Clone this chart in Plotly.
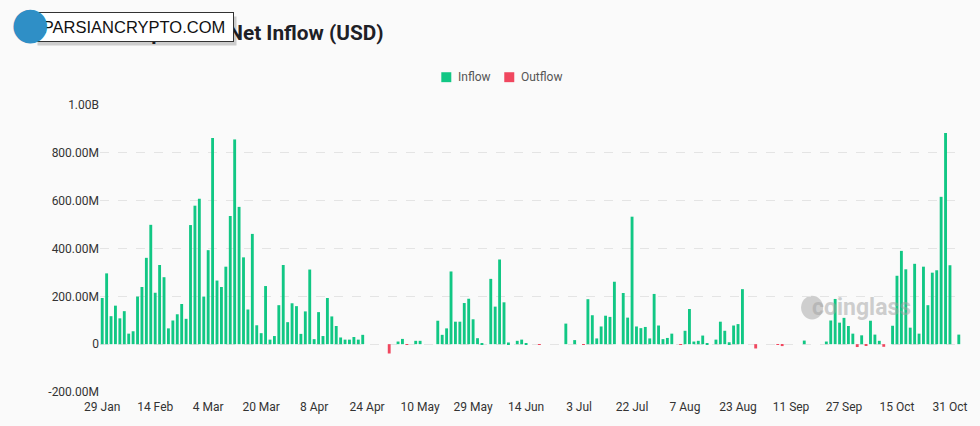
import pandas as pd
import plotly.graph_objects as go

# trading days shown on the chart (US market days)
holidays = ["2024-02-19", "2024-03-29", "2024-05-27", "2024-06-19", "2024-07-04", "2024-09-02"]
days = pd.bdate_range("2024-01-29", "2024-11-04")
days = [d.strftime("%Y-%m-%d") for d in days if d.strftime("%Y-%m-%d") not in holidays]

# daily net flow, millions USD
flow_jan_feb = [193, 296, 117, 161, 108, 138, 44, 54, 199, 239, 361, 499, 215, 331, 280,
                66, 99, 125, 168, 106, 498, 579, 608]
flow_mar = [199, 393, 862, 266, 239, 324, 536, 856, 574, 363, 145, 461, 79, 46, 243,
            19, 34, 163, 331, 92]
flow_apr = [171, 159, 43, 137, 312, 21, 134, 34, 193, 116, 76, 28, 19, 19, 30, 19, 39,
            0, 0, 0, 0, 0]
flow_may = [-39, 0, 11, 22, -3, 0, 14, 14, 0, 0, 0, 98, 39, 66, 304, 94, 94, 172, 190,
            104, 25, 4]
flow_jun = [0, 273, 157, 354, 175, 7, 0, 14, 19, 2, 0, 0, -1, 0, 0, 0, 0, 0, 86]
flow_jul = [0, 17, 0, -3, 188, 121, 24, 74, 119, 114, 261, 0, 214, 111, 533, 74, 67, 72,
            24, 210, 78, 21]
flow_aug = [26, 44, 0, -3, 56, 147, 11, 14, 36, 1, 0, 19, 94, 56, 8, 78, 84, 230, 0, 0,
            -18, 0]
flow_sep = [0, 0, 0, -3, -8, 0, 0, 0, 0, 15, 0, 0, 0, 0, 11, 99, 189, 90, 110, 76]
flow_oct = [44, -12, 37, -4, 98, 40, 14, -11, 0, 77, 286, 390, 313, 69, 336, 44, 324,
            163, 299, 309, 616, 883, 330]
flow_nov = [0, 40]

tick_labels = ["29 Jan", "14 Feb", "4 Mar", "20 Mar", "8 Apr", "24 Apr", "10 May", "29 May",
               "14 Jun", "3 Jul", "22 Jul", "7 Aug", "23 Aug", "11 Sep", "27 Sep", "15 Oct", "31 Oct"]
y_ticks = [-200e6, 0, 200e6, 400e6, 600e6, 800e6, 1e9]
y_labels = ["-200.00M", "0", "200.00M", "400.00M", "600.00M", "800.00M", "1.00B"]

GREEN = "#11c784"
RED = "#f0475f"

flow = (flow_jan_feb + flow_mar + flow_apr + flow_may + flow_jun + flow_jul
        + flow_aug + flow_sep + flow_oct + flow_nov)
flow = [v * 1e6 for v in flow]
inflow = [v if v > 0 else None for v in flow]
outflow = [v if v < 0 else None for v in flow]

fig = go.Figure()
fig.add_trace(go.Bar(x=days, y=inflow, name="Inflow", marker_color=GREEN, marker_line_width=0))
fig.add_trace(go.Bar(x=days, y=outflow, name="Outflow", marker_color=RED, marker_line_width=0))

W, H = 980, 426
L, R, T, B = 99.5, 19, 105, 32
pw, ph = W - L - R, H - T - B

def px2paper(x, y):
    return (x - L) / pw, (H - B - y) / ph

fig.update_layout(
    width=W, height=H,
    margin=dict(l=L, r=R, t=T, b=B),
    paper_bgcolor="#fafafa", plot_bgcolor="#fafafa",
    barmode="relative", bargap=0.35,
    font=dict(family="Roboto, sans-serif", size=12, color="#333"),
    title=dict(text="Total Bitcoin Spot ETF Net Inflow (USD)", x=16 / W, xanchor="left",
               y=1 - 33 / H, yanchor="middle",
               font=dict(size=20.8, color="#1e2026", family="Roboto, sans-serif", weight="bold")),
    showlegend=False,
)
fig.update_xaxes(type="category", tickvals=days[::12], ticktext=tick_labels, showgrid=False,
                 showline=False, ticks="", ticklabelstandoff=6, tickfont=dict(size=12, color="#333"))
fig.update_yaxes(range=[-200e6, 1e9], tickvals=y_ticks, ticktext=y_labels, showgrid=True,
                 gridcolor="#e4e4e4", griddash="dash", zeroline=False, ticks="",
                 tickfont=dict(size=12, color="#333"))

# legend drawn by hand (small swatches like the source)
for name, color, sx in [("Inflow", GREEN, 441), ("Outflow", RED, 504)]:
    x0, y0 = px2paper(sx, 72)
    x1, y1 = px2paper(sx + 10, 82)
    fig.add_shape(type="rect", xref="paper", yref="paper", x0=x0, y0=y0, x1=x1, y1=y1,
                  fillcolor=color, line_width=0)
    tx, ty = px2paper(sx + 15, 77)
    fig.add_annotation(xref="paper", yref="paper", x=tx, y=ty, text=name, showarrow=False,
                       xanchor="left", yanchor="middle", font=dict(size=12, color="#555"))

# coinglass watermark
x0, y0 = px2paper(801, 297)
x1, y1 = px2paper(823, 321)
fig.add_shape(type="circle", xref="paper", yref="paper", x0=x0, y0=y0, x1=x1, y1=y1,
              fillcolor="rgba(170,170,170,0.55)", line_width=0, layer="below")
cx, cy = px2paper(861, 309)
fig.add_annotation(xref="paper", yref="paper", x=cx, y=cy, text="<b>coinglass</b>", showarrow=False,
                   xanchor="center", yanchor="middle",
                   font=dict(size=23, color="rgba(160,160,160,0.5)", family="Roboto, sans-serif"))

# site badge sitting over the title
sx, sy = px2paper(137, 30)
fig.add_annotation(xref="paper", yref="paper", x=sx, y=sy, text="", showarrow=False,
                   xanchor="center", yanchor="middle", width=190, height=20, borderpad=4,
                   bgcolor="rgba(0,0,0,0.18)")
bx, by = px2paper(134, 26)
fig.add_annotation(xref="paper", yref="paper", x=bx, y=by, text="PARSIANCRYPTO.COM", showarrow=False,
                   xanchor="center", yanchor="middle", width=190, height=20, borderpad=4,
                   bgcolor="white", bordercolor="#333", borderwidth=1,
                   font=dict(size=16.5, color="#111", family="Liberation Sans, Arial"))
lx, ly = px2paper(29, 22)
fig.add_annotation(xref="paper", yref="paper", x=lx, y=ly, text="●", showarrow=False,
                   xanchor="center", yanchor="middle",
                   font=dict(size=44, color="#2f8fc6", family="DejaVu Sans"))

fig.write_html("out.html", post_script="document.body.style.margin='0px';",
               config={"displayModeBar": False})
